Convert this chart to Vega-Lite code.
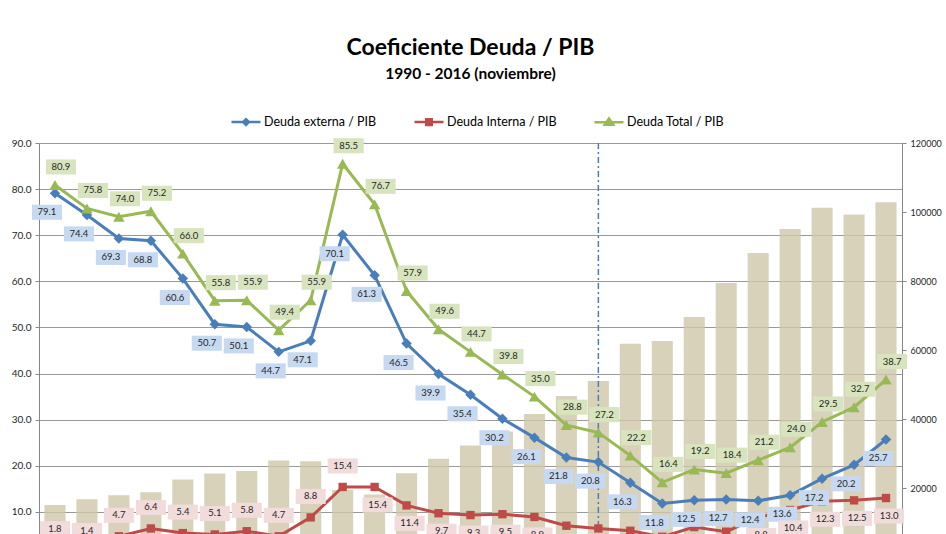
{
  "$schema": "https://vega.github.io/schema/vega-lite/v6.json",
  "autosize": "none",
  "width": 863,
  "height": 391,
  "padding": {"left": 39, "top": 143, "right": 44, "bottom": 0},
  "background": "white",
  "config": {"font": "Lato", "view": {"stroke": null}},
  "title": {
    "text": "Coeficiente Deuda / PIB",
    "subtitle": "1990 - 2016 (noviembre)",
    "anchor": "middle",
    "frame": "group",
    "font": "Lato",
    "fontSize": 23,
    "fontWeight": "bold",
    "color": "#000000",
    "subtitleFont": "Lato",
    "subtitleFontSize": 15.5,
    "subtitleFontWeight": "bold",
    "subtitleColor": "#000000",
    "subtitlePadding": 7,
    "offset": 24
  },
  "datasets": {
    "pib": [
      {"year": 1990, "pib": 15217}, {"year": 1991, "pib": 16870}, {"year": 1992, "pib": 18030},
      {"year": 1993, "pib": 18900}, {"year": 1994, "pib": 22550}, {"year": 1995, "pib": 24290},
      {"year": 1996, "pib": 25070}, {"year": 1997, "pib": 28060}, {"year": 1998, "pib": 27880},
      {"year": 1999, "pib": 19570}, {"year": 2000, "pib": 18200}, {"year": 2001, "pib": 24410},
      {"year": 2002, "pib": 28550}, {"year": 2003, "pib": 32410}, {"year": 2004, "pib": 36460},
      {"year": 2005, "pib": 41510}, {"year": 2006, "pib": 46720}, {"year": 2007, "pib": 51070},
      {"year": 2008, "pib": 61880}, {"year": 2009, "pib": 62670}, {"year": 2010, "pib": 69620},
      {"year": 2011, "pib": 79480}, {"year": 2012, "pib": 88170}, {"year": 2013, "pib": 95130},
      {"year": 2014, "pib": 101220}, {"year": 2015, "pib": 99280}, {"year": 2016, "pib": 102840}
    ],
    "ratios": [
      {"year": 1990, "serie": "Deuda externa / PIB", "value": 79.1},
      {"year": 1991, "serie": "Deuda externa / PIB", "value": 74.4},
      {"year": 1992, "serie": "Deuda externa / PIB", "value": 69.3},
      {"year": 1993, "serie": "Deuda externa / PIB", "value": 68.8},
      {"year": 1994, "serie": "Deuda externa / PIB", "value": 60.6},
      {"year": 1995, "serie": "Deuda externa / PIB", "value": 50.7},
      {"year": 1996, "serie": "Deuda externa / PIB", "value": 50.1},
      {"year": 1997, "serie": "Deuda externa / PIB", "value": 44.7},
      {"year": 1998, "serie": "Deuda externa / PIB", "value": 47.1},
      {"year": 1999, "serie": "Deuda externa / PIB", "value": 70.1},
      {"year": 2000, "serie": "Deuda externa / PIB", "value": 61.3},
      {"year": 2001, "serie": "Deuda externa / PIB", "value": 46.5},
      {"year": 2002, "serie": "Deuda externa / PIB", "value": 39.9},
      {"year": 2003, "serie": "Deuda externa / PIB", "value": 35.4},
      {"year": 2004, "serie": "Deuda externa / PIB", "value": 30.2},
      {"year": 2005, "serie": "Deuda externa / PIB", "value": 26.1},
      {"year": 2006, "serie": "Deuda externa / PIB", "value": 21.8},
      {"year": 2007, "serie": "Deuda externa / PIB", "value": 20.8},
      {"year": 2008, "serie": "Deuda externa / PIB", "value": 16.3},
      {"year": 2009, "serie": "Deuda externa / PIB", "value": 11.8},
      {"year": 2010, "serie": "Deuda externa / PIB", "value": 12.5},
      {"year": 2011, "serie": "Deuda externa / PIB", "value": 12.7},
      {"year": 2012, "serie": "Deuda externa / PIB", "value": 12.4},
      {"year": 2013, "serie": "Deuda externa / PIB", "value": 13.6},
      {"year": 2014, "serie": "Deuda externa / PIB", "value": 17.2},
      {"year": 2015, "serie": "Deuda externa / PIB", "value": 20.2},
      {"year": 2016, "serie": "Deuda externa / PIB", "value": 25.7},
      {"year": 1990, "serie": "Deuda Interna / PIB", "value": 1.8},
      {"year": 1991, "serie": "Deuda Interna / PIB", "value": 1.4},
      {"year": 1992, "serie": "Deuda Interna / PIB", "value": 4.7},
      {"year": 1993, "serie": "Deuda Interna / PIB", "value": 6.4},
      {"year": 1994, "serie": "Deuda Interna / PIB", "value": 5.4},
      {"year": 1995, "serie": "Deuda Interna / PIB", "value": 5.1},
      {"year": 1996, "serie": "Deuda Interna / PIB", "value": 5.8},
      {"year": 1997, "serie": "Deuda Interna / PIB", "value": 4.7},
      {"year": 1998, "serie": "Deuda Interna / PIB", "value": 8.8},
      {"year": 1999, "serie": "Deuda Interna / PIB", "value": 15.4},
      {"year": 2000, "serie": "Deuda Interna / PIB", "value": 15.4},
      {"year": 2001, "serie": "Deuda Interna / PIB", "value": 11.4},
      {"year": 2002, "serie": "Deuda Interna / PIB", "value": 9.7},
      {"year": 2003, "serie": "Deuda Interna / PIB", "value": 9.3},
      {"year": 2004, "serie": "Deuda Interna / PIB", "value": 9.5},
      {"year": 2005, "serie": "Deuda Interna / PIB", "value": 8.9},
      {"year": 2006, "serie": "Deuda Interna / PIB", "value": 7.0},
      {"year": 2007, "serie": "Deuda Interna / PIB", "value": 6.4},
      {"year": 2008, "serie": "Deuda Interna / PIB", "value": 5.9},
      {"year": 2009, "serie": "Deuda Interna / PIB", "value": 4.6},
      {"year": 2010, "serie": "Deuda Interna / PIB", "value": 6.7},
      {"year": 2011, "serie": "Deuda Interna / PIB", "value": 5.7},
      {"year": 2012, "serie": "Deuda Interna / PIB", "value": 8.8},
      {"year": 2013, "serie": "Deuda Interna / PIB", "value": 10.4},
      {"year": 2014, "serie": "Deuda Interna / PIB", "value": 12.3},
      {"year": 2015, "serie": "Deuda Interna / PIB", "value": 12.5},
      {"year": 2016, "serie": "Deuda Interna / PIB", "value": 13.0},
      {"year": 1990, "serie": "Deuda Total / PIB", "value": 80.9},
      {"year": 1991, "serie": "Deuda Total / PIB", "value": 75.8},
      {"year": 1992, "serie": "Deuda Total / PIB", "value": 74.0},
      {"year": 1993, "serie": "Deuda Total / PIB", "value": 75.2},
      {"year": 1994, "serie": "Deuda Total / PIB", "value": 66.0},
      {"year": 1995, "serie": "Deuda Total / PIB", "value": 55.8},
      {"year": 1996, "serie": "Deuda Total / PIB", "value": 55.9},
      {"year": 1997, "serie": "Deuda Total / PIB", "value": 49.4},
      {"year": 1998, "serie": "Deuda Total / PIB", "value": 55.9},
      {"year": 1999, "serie": "Deuda Total / PIB", "value": 85.5},
      {"year": 2000, "serie": "Deuda Total / PIB", "value": 76.7},
      {"year": 2001, "serie": "Deuda Total / PIB", "value": 57.9},
      {"year": 2002, "serie": "Deuda Total / PIB", "value": 49.6},
      {"year": 2003, "serie": "Deuda Total / PIB", "value": 44.7},
      {"year": 2004, "serie": "Deuda Total / PIB", "value": 39.8},
      {"year": 2005, "serie": "Deuda Total / PIB", "value": 35.0},
      {"year": 2006, "serie": "Deuda Total / PIB", "value": 28.8},
      {"year": 2007, "serie": "Deuda Total / PIB", "value": 27.2},
      {"year": 2008, "serie": "Deuda Total / PIB", "value": 22.2},
      {"year": 2009, "serie": "Deuda Total / PIB", "value": 16.4},
      {"year": 2010, "serie": "Deuda Total / PIB", "value": 19.2},
      {"year": 2011, "serie": "Deuda Total / PIB", "value": 18.4},
      {"year": 2012, "serie": "Deuda Total / PIB", "value": 21.2},
      {"year": 2013, "serie": "Deuda Total / PIB", "value": 24.0},
      {"year": 2014, "serie": "Deuda Total / PIB", "value": 29.5},
      {"year": 2015, "serie": "Deuda Total / PIB", "value": 32.7},
      {"year": 2016, "serie": "Deuda Total / PIB", "value": 38.7}
    ]
  },
  "layer": [
    {
      "data": {"name": "pib"},
      "mark": {"type": "bar", "color": "#cec7a9", "opacity": 0.8},
      "encoding": {
        "x": {
          "field": "year", "type": "ordinal",
          "scale": {"paddingInner": 0.34, "paddingOuter": 0.17},
          "axis": null
        },
        "y": {
          "field": "pib", "type": "quantitative",
          "scale": {"domain": [6800, 120000], "nice": false, "zero": false},
          "axis": {
            "orient": "right", "values": [20000, 40000, 60000, 80000, 100000, 120000],
            "format": "d", "grid": false, "title": null,
            "domainColor": "#868686", "tickColor": "#868686", "tickSize": 4,
            "labelFont": "Lato", "labelFontSize": 9, "labelColor": "#262626", "labelPadding": 4
          }
        }
      }
    },
    {
      "data": {"values": [{"year": 2007}]},
      "mark": {"type": "rule", "color": "#4a7ebb", "strokeWidth": 1.5, "strokeDash": [6, 3, 2, 3]},
      "encoding": {"x": {"field": "year", "type": "ordinal"}}
    },
    {
      "data": {"name": "ratios"},
      "encoding": {
        "x": {"field": "year", "type": "ordinal"},
        "y": {
          "field": "value", "type": "quantitative",
          "scale": {"domain": [5.2, 90], "nice": false, "zero": false},
          "axis": {
            "orient": "left", "values": [10, 20, 30, 40, 50, 60, 70, 80, 90],
            "format": ".1f", "grid": true, "gridColor": "#999999", "gridWidth": 1,
            "title": null, "domainColor": "#868686", "tickColor": "#868686", "tickSize": 4,
            "labelFont": "Lato", "labelFontSize": 10, "labelColor": "#262626", "labelPadding": 4
          }
        }
      },
      "layer": [
        {
          "mark": {"type": "line", "strokeWidth": 3},
          "encoding": {
            "color": {
              "field": "serie", "type": "nominal",
              "scale": {
                "domain": ["Deuda externa / PIB", "Deuda Interna / PIB", "Deuda Total / PIB"],
                "range": ["#4a7ebb", "#be4b48", "#98b954"]
              },
              "legend": {
                "orient": "none", "legendX": 191, "legendY": -37, "direction": "horizontal",
                "title": null, "symbolSize": 841, "labelFont": "Lato", "labelFontSize": 12.5,
                "labelColor": "#000000", "labelOffset": 2, "columnPadding": 32,
                "encode": {
                  "symbols": {
                    "update": {
                      "shape": {"signal": "datum.value === 'Deuda externa / PIB' ? 'M-1,0H1M0,-0.2L0.2,0L0,0.2L-0.2,0Z' : datum.value === 'Deuda Interna / PIB' ? 'M-1,0H1M-0.19,-0.19H0.19V0.19H-0.19Z' : 'M-1,0H1M-0.29,0.17L0,-0.26L0.29,0.17Z'"},
                      "fill": {"scale": "color", "field": "value"},
                      "stroke": {"scale": "color", "field": "value"},
                      "strokeWidth": {"value": 2.5},
                      "opacity": {"value": 1}
                    }
                  }
                }
              }
            }
          }
        },
        {
          "transform": [{"filter": "datum.serie === 'Deuda externa / PIB'"}],
          "mark": {"type": "point", "shape": "diamond", "size": 110, "filled": true, "opacity": 1, "color": "#4a7ebb"}
        },
        {
          "transform": [{"filter": "datum.serie === 'Deuda Interna / PIB'"}],
          "mark": {"type": "point", "shape": "square", "size": 70, "filled": true, "opacity": 1, "color": "#be4b48"}
        },
        {
          "transform": [{"filter": "datum.serie === 'Deuda Total / PIB'"}],
          "mark": {"type": "point", "shape": "triangle-up", "size": 130, "filled": true, "opacity": 1, "color": "#98b954"}
        },
        {
          "transform": [{"filter": "datum.serie === 'Deuda externa / PIB'"}],
          "mark": {"type": "point", "shape": "M-1.44,0.7175H0.44V1.6575H-1.44Z", "size": 1024, "filled": true, "color": "#c6d9f1", "opacity": 1, "strokeWidth": 0}
        },
        {
          "transform": [{"filter": "datum.serie === 'Deuda externa / PIB'"}],
          "mark": {"type": "text", "dx": -8, "dy": 19, "fontSize": 9.5, "font": "Lato", "color": "#262626", "align": "center", "baseline": "middle"},
          "encoding": {"text": {"field": "value", "type": "quantitative", "format": ".1f"}}
        },
        {
          "transform": [{"filter": "datum.serie === 'Deuda Total / PIB'"}],
          "mark": {"type": "point", "shape": "M-0.565,-1.595H1.315V-0.655H-0.565Z", "size": 1024, "filled": true, "color": "#d7e4bd", "opacity": 1, "strokeWidth": 0}
        },
        {
          "transform": [{"filter": "datum.serie === 'Deuda Total / PIB'"}],
          "mark": {"type": "text", "dx": 6, "dy": -18, "fontSize": 9.5, "font": "Lato", "color": "#262626", "align": "center", "baseline": "middle"},
          "encoding": {"text": {"field": "value", "type": "quantitative", "format": ".1f"}}
        },
        {
          "transform": [{"filter": "datum.serie === 'Deuda Interna / PIB' && datum.year <= 1999"}],
          "mark": {"type": "point", "shape": "M-0.94,-1.7825H0.94V-0.8425H-0.94Z", "size": 1024, "filled": true, "color": "#f2dcdb", "opacity": 1, "strokeWidth": 0}
        },
        {
          "transform": [{"filter": "datum.serie === 'Deuda Interna / PIB' && datum.year <= 1999"}],
          "mark": {"type": "text", "dx": 0, "dy": -21, "fontSize": 9.5, "font": "Lato", "color": "#262626", "align": "center", "baseline": "middle"},
          "encoding": {"text": {"field": "value", "type": "quantitative", "format": ".1f"}}
        },
        {
          "transform": [{"filter": "datum.serie === 'Deuda Interna / PIB' && datum.year > 1999"}],
          "mark": {"type": "point", "shape": "M-0.7525,0.655H1.1275V1.595H-0.7525Z", "size": 1024, "filled": true, "color": "#f2dcdb", "opacity": 1, "strokeWidth": 0}
        },
        {
          "transform": [{"filter": "datum.serie === 'Deuda Interna / PIB' && datum.year > 1999"}],
          "mark": {"type": "text", "dx": 3, "dy": 18, "fontSize": 9.5, "font": "Lato", "color": "#262626", "align": "center", "baseline": "middle"},
          "encoding": {"text": {"field": "value", "type": "quantitative", "format": ".1f"}}
        }
      ]
    }
  ],
  "resolve": {"scale": {"y": "independent"}}
}
